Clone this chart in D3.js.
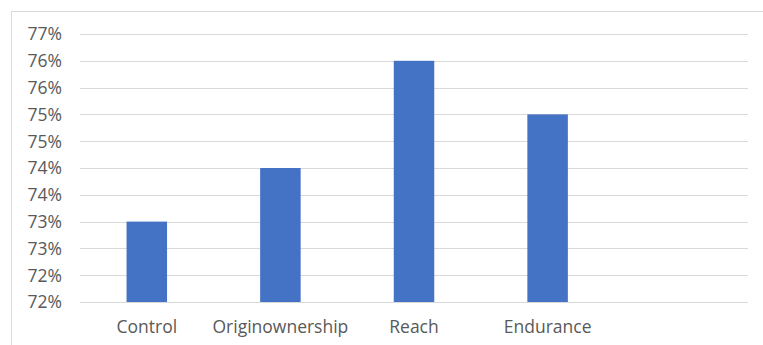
<!DOCTYPE html>
<html><head><meta charset="utf-8">
<script src="https://cdn.jsdelivr.net/npm/d3@7"></script>
<style>
html,body{margin:0;padding:0;background:#fff;}
svg{display:block;}
text{font-family:"Open Sans","Noto Sans",sans-serif;fill:#595959;}
</style></head>
<body><svg id="c" width="763" height="345"></svg>
<script>
const categories = ["Control","Originownership","Reach","Endurance",""];
const values = [0.735, 0.745, 0.765, 0.755, null];
const tickValues = [0.720,0.725,0.730,0.735,0.740,0.745,0.750,0.755,0.760,0.765,0.770];
const tickLabels = ["72%","72%","73%","73%","74%","74%","75%","75%","76%","76%","77%"];

const svg = d3.select("#c");
// chart frame
svg.append("rect").attr("x",11.5).attr("y",11.5).attr("width",770).attr("height",360)
  .attr("fill","none").attr("stroke","#d9d9d9").attr("stroke-width",1);

const pLeft=80, pRight=748, pTop=34, pBottom=302;
const x = d3.scaleBand().domain(categories).range([pLeft,pRight]).paddingInner(0).paddingOuter(0);
const y = d3.scaleLinear().domain([0.72,0.77]).range([pBottom,pTop]);

// gridlines
svg.append("g").selectAll("line").data(tickValues).join("line")
  .attr("x1",pLeft).attr("x2",pRight)
  .attr("y1",d=>Math.round(y(d))+0.5).attr("y2",d=>Math.round(y(d))+0.5)
  .attr("stroke","#d9d9d9").attr("stroke-width",1);

// y labels via axis
const yAxis = d3.axisLeft(y).tickValues(tickValues).tickSize(0).tickPadding(0)
  .tickFormat((d,i)=>tickLabels[i]);
const gy = svg.append("g").attr("transform",`translate(62,0)`).call(yAxis);
gy.select(".domain").remove();
gy.selectAll("text").attr("font-size","17.5px").attr("fill","#595959").attr("dy","0.34em")
  .style("font-family","'Open Sans','Noto Sans',sans-serif");

// bars
const bw = 40.5;
svg.append("g").selectAll("rect").data(categories.map((c,i)=>({c,v:values[i]})).filter(d=>d.v!=null))
  .join("rect")
  .attr("x",d=>x(d.c)+x.bandwidth()/2-bw/2)
  .attr("y",d=>y(d.v))
  .attr("width",bw)
  .attr("height",d=>y(0.72)-y(d.v))
  .attr("fill","#4472C4");

// x labels
const xAxis = d3.axisBottom(x).tickSize(0).tickPadding(0);
const gx = svg.append("g").attr("transform",`translate(0,${pBottom+31})`).call(xAxis);
gx.select(".domain").remove();
gx.selectAll("text").attr("font-size","17.5px").attr("fill","#595959").attr("dy","0")
  .style("font-family","'Open Sans','Noto Sans',sans-serif");
</script></body></html>
